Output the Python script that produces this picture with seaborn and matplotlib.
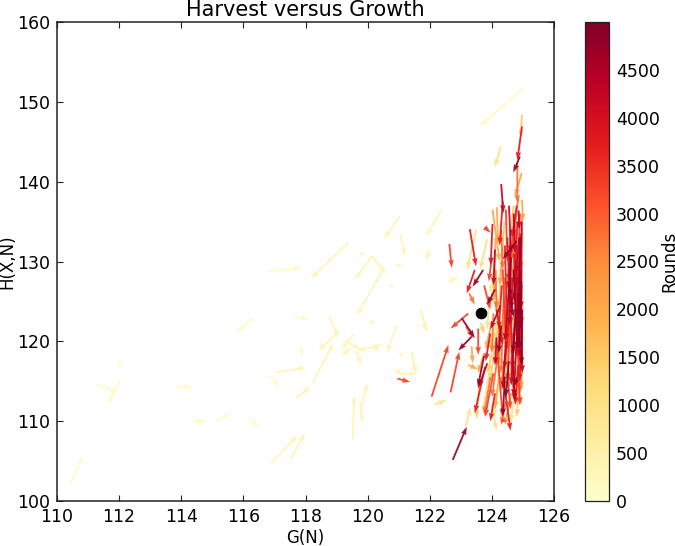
import numpy as np
import matplotlib
matplotlib.use("Agg")
import matplotlib.pyplot as plt
import seaborn as sns

# each row: G start, H start, G end, H end
rounds_band = [150, 350, 1000, 1500, 2100, 2800, 3300, 3800, 4300, 4800]

arrows_150 = [
 (110.44,102.3,110.83,105.6),(111.28,114.6,111.97,113.6),(112.03,115.2,111.65,112.2),
 (111.97,117.0,112.16,117.3),(113.83,114.4,114.34,114.2),(114.37,110.0,114.8,110.0),
 (115.12,110.0,115.6,111.0),(116.27,122.89,115.78,121.03),(116.19,110.36,116.51,109.19),
 (116.84,115.79,117.16,114.2),(117.66,123.18,118.11,122.68),(117.85,119.13,117.91,118.1),
 (125.01,151.7,123.62,147.0),(116.8,128.74,117.88,129.24),
]
arrows_350 = [
 (116.89,104.72,117.75,108.27),(117.52,105.22,117.98,108.48),(117.04,116.08,118.02,116.71),
 (117.69,112.87,118.15,114.33),(118.23,114.83,118.9,119.76),(118.77,123.1,119.06,120.5),
 (119.06,121.22,118.41,118.8),(119.38,132.37,118.18,127.9),(119.54,120.8,119.13,118.92),
 (119.24,120.18,119.78,118.92),(119.43,119.13,119.17,118.2),(120.42,119.55,119.65,118.8),
 (120.18,119.55,120.4,118.7),(120.94,121.93,120.61,118.6),(119.63,118.7,119.81,117.04),
 (119.52,107.73,119.57,113.28),(119.76,111.2,119.99,114.83),(119.76,112.24,119.83,109.82),
 (120.13,122.6,120.18,121.85),(121.56,122.06,121.69,122.06),(121.71,123.94,121.92,121.1),
 (121.06,118.6,121.13,117.88),(121.42,118.6,121.55,116.0),(120.88,116.42,121.15,115.79),
 (121.04,115.92,121.58,115.92),(119.76,131.04,119.92,130.7),(120.13,130.7,119.59,127.7),
 (120.13,130.7,120.59,128.45),(120.49,128.95,119.65,123.23),(120.91,129.53,121.13,129.53),
 (120.74,127.07,120.83,126.65),(121.06,135.84,120.53,132.79),(121.06,133.33,121.2,130.62),
 (122.38,136.5,121.88,133.2),(121.98,131.5,121.9,130.0),(121.7,123.9,121.9,121.2),
 (122.6,127.5,122.92,128.0),(121.42,118.7,121.56,115.8),
]
arrows_1000 = [
 (124.28,144.4,124.10,141.8),(122.17,112.05,122.54,112.66),(123.16,109.4,123.31,111.75),
 (123.5,134.0,123.2,129.0),(123.85,132.8,123.62,129.0),(124.6,126.0,124.5,121.0),
 (124.0,112.0,124.15,108.8),(124.95,130.0,124.9,126.0),(124.3,119.0,124.2,115.5),
 (124.7,112.5,124.6,109.8),(123.9,124.5,123.85,121.5),(124.4,122.5,124.5,118.5),
 (124.85,122.0,124.75,118.0),(124.2,114.0,124.05,110.5),(124.55,131.0,124.65,127.0),
 (124.25,125.0,124.0,119.0),(123.95,117.0,123.7,111.0),(124.98,126.0,124.92,114.0),
 (124.5,116.0,124.3,110.0),(124.75,136.0,124.55,128.0),(124.15,131.0,123.95,126.0),
]
arrows_1500 = [
 (124.1,121.0,123.82,119.0),(123.65,122.3,123.75,120.9),(123.55,128.0,123.45,127.3),
 (124.97,148.4,124.92,145.45),(124.0,118.5,123.85,116.0),(124.9,116.0,124.8,110.5),
 (124.7,137.0,124.6,133.0),(124.15,127.5,123.95,124.5),(123.6,115.0,123.5,110.3),
 (124.45,117.0,124.25,113.5),(124.85,126.0,124.95,120.5),(124.3,128.5,124.2,123.5),
 (124.65,124.0,124.45,119.0),(124.97,134.0,124.93,129.0),(124.6,122.0,124.35,114.0),
 (124.05,129.0,124.25,122.0),(124.92,124.0,124.85,113.0),(124.4,135.0,124.3,128.0),
 (124.2,122.5,123.95,115.0),
]
arrows_2100 = [
 (124.16,136.8,124.2,132.3),(124.02,136.5,124.25,130.0),(124.96,141.1,124.74,138.1),
 (124.97,137.7,125.0,135.0),(123.35,119.4,123.38,117.25),(123.24,117.05,123.56,116.5),
 (124.8,132.0,124.7,128.0),(124.62,113.5,124.42,109.5),(124.1,125.0,124.3,120.0),
 (124.95,122.0,124.95,114.0),(124.35,131.5,124.25,127.0),(124.75,120.0,124.55,115.0),
 (124.0,122.5,123.8,119.0),(124.9,128.0,124.8,122.0),(123.75,118.5,123.55,116.0),
 (124.25,116.5,124.1,111.5),(124.55,127.5,124.65,122.0),(124.98,136.0,124.9,126.0),
 (124.45,126.0,124.2,117.0),(124.7,118.0,124.95,112.0),(124.35,124.0,124.55,114.0),
 (124.12,133.0,124.05,125.0),
]
arrows_2800 = [
 (124.82,142.3,124.82,137.3),(123.16,121.85,123.4,120.4),(123.27,126.0,123.45,124.6),
 (124.05,123.5,124.0,118.5),(124.5,120.0,124.3,114.5),(124.88,133.0,124.75,128.0),
 (124.62,118.0,124.72,112.5),(124.3,134.0,124.35,129.0),(124.78,125.5,124.68,120.0),
 (124.45,112.5,124.3,109.5),(124.2,118.5,124.0,113.0),(124.92,119.0,124.9,113.5),
 (124.6,129.5,124.5,124.5),(124.12,129.0,124.15,124.0),(123.95,115.5,123.75,110.8),
 (124.75,134.0,124.6,122.0),(124.4,128.0,124.3,116.0),(124.95,131.0,124.85,119.0),
 (124.55,124.0,124.7,114.0),(124.85,138.0,124.65,131.0),
]
arrows_3300 = [
 (122.06,113.08,122.60,119.55),(122.67,113.6,122.95,118.7),(123.24,123.5,122.67,121.6),
 (122.63,132.2,122.71,129.2),(120.96,115.33,121.37,114.9),(123.76,134.3,123.96,133.6),
 (123.56,121.6,123.56,118.3),(124.3,110.1,124.5,110.0),(124.0,130.5,123.9,127.5),
 (124.4,125.0,124.5,119.0),(124.72,135.0,124.62,130.0),(124.25,122.0,124.15,117.0),
 (124.88,124.5,124.78,118.0),(124.5,116.0,124.6,111.5),(124.05,116.0,123.78,110.5),
 (124.6,132.0,124.5,126.5),(123.75,127.0,123.95,124.0),(124.95,130.0,124.95,122.0),
 (124.65,128.0,124.5,115.0),(124.8,122.0,124.9,112.0),(124.35,129.0,124.45,120.0),
 (124.9,136.0,124.8,124.0),(124.15,120.0,124.35,110.5),(124.45,136.5,124.5,130.0),
]
arrows_3800 = [
 (124.97,146.9,124.82,142.7),(123.29,134.05,123.49,129.4),(124.02,134.7,123.96,129.5),
 (123.78,116.8,123.45,111.0),(123.45,128.95,123.19,126.0),(124.8,137.0,124.65,133.0),
 (124.15,124.0,124.35,119.5),(124.55,122.5,124.4,116.5),(124.85,117.0,124.75,112.0),
 (124.68,128.0,124.58,122.0),(124.32,127.0,124.22,121.5),(124.9,126.0,124.88,119.0),
 (124.1,113.5,123.95,110.0),(124.5,133.0,124.55,127.5),(124.75,123.0,124.65,116.5),
 (124.4,114.5,124.6,108.8),(123.95,121.0,123.8,117.5),(124.92,133.5,124.85,127.0),
 (124.72,131.0,124.85,118.0),(124.95,127.0,124.9,115.0),(124.58,126.0,124.72,113.0),
 (124.42,132.0,124.5,120.0),(124.82,135.0,124.72,125.0),(124.35,137.5,124.25,132.0),
]
arrows_4300 = [
 (124.30,139.7,124.37,136.05),(124.7,136.0,124.75,131.0),(124.86,136.4,124.88,134.0),
 (124.92,129.0,124.9,122.0),(123.85,117.25,123.56,114.1),(124.82,128.0,124.6,124.0),
 (124.55,126.5,124.42,120.0),(124.72,121.0,124.62,114.5),(124.28,124.5,123.95,121.5),
 (124.95,122.5,124.98,116.0),(124.45,120.0,124.35,114.0),(124.65,119.0,124.75,112.5),
 (124.15,120.5,124.1,117.0),(124.88,133.0,124.78,128.5),(124.1,131.5,124.05,127.0),
 (124.78,130.0,124.9,118.0),(124.6,134.0,124.55,122.0),(124.96,135.0,124.94,124.0),
 (124.85,124.0,124.7,113.0),(124.55,137.0,124.62,131.0),
]
arrows_4800 = [
 (124.90,143.15,124.69,141.15),(123.03,122.9,123.45,120.4),(123.35,120.6,122.92,118.85),
 (122.74,105.15,123.19,109.3),(123.72,128.95,123.38,126.85),(124.42,115.6,124.35,110.6),
 (124.8,132.6,124.35,130.3),(124.52,127.5,124.7,123.0),(124.85,126.0,124.88,119.0),
 (124.62,130.5,124.58,125.5),(124.78,124.0,124.68,118.5),(124.95,127.5,124.92,121.5),
 (124.1,126.5,123.85,124.6),(124.3,122.0,124.22,118.5),(124.55,117.5,124.45,113.0),
 (123.75,118.2,123.55,114.3),(124.8,115.5,124.72,114.3),(124.92,133.0,124.85,123.0),
 (124.7,129.0,124.82,119.0),(124.98,124.0,124.95,117.0),
]
bands = [arrows_150, arrows_350, arrows_1000, arrows_1500, arrows_2100,
         arrows_2800, arrows_3300, arrows_3800, arrows_4300, arrows_4800]

final_g = [123.65]
final_h = [123.6]
x_ticks = [110, 112, 114, 116, 118, 120, 122, 124, 126]
y_ticks = [100, 110, 120, 130, 140, 150, 160]
cbar_ticks = [0, 500, 1000, 1500, 2000, 2500, 3000, 3500, 4000, 4500]

sns.set_style("ticks")
plt.rcParams["font.family"] = ["DejaVu Sans"]
plt.rcParams["axes.edgecolor"] = "#222222"
plt.rcParams["xtick.color"] = "#222222"
plt.rcParams["ytick.color"] = "#222222"
plt.rcParams["text.color"] = "black"
plt.rcParams["axes.labelcolor"] = "black"

fig = plt.figure(figsize=(6.75, 5.46), dpi=100)
W, H = 675, 546
ax = fig.add_axes([57/W, 1-501/H, (554-57)/W, (501-22)/H])
cax = fig.add_axes([585/W, 1-501/H, (609-585)/W, (501-22)/H])

seg = np.array([a for b in bands for a in b], dtype=float)
rnd = np.array([r for r, b in zip(rounds_band, bands) for _ in b], dtype=float)
cmap = sns.color_palette("YlOrRd", as_cmap=True)
q = ax.quiver(seg[:, 0], seg[:, 1], seg[:, 2]-seg[:, 0], seg[:, 3]-seg[:, 1], rnd,
              cmap=cmap, clim=(0, 4999), angles="xy", scale_units="xy", scale=1,
              width=0.0037, headwidth=3, headlength=4.5, headaxislength=4,
              minlength=0, alpha=0.92, zorder=2)
sns.scatterplot(x=final_g, y=final_h, color="black", s=60, edgecolor="black",
                ax=ax, zorder=3, legend=False)

ax.set_xlim(110, 126)
ax.set_ylim(100, 160)
ax.set_xticks(x_ticks)
ax.set_yticks(y_ticks)
ax.tick_params(direction="in", top=True, right=True, length=4, width=0.8,
               labelsize=12.5, labelcolor="black", pad=5)
for s in ax.spines.values():
    s.set_linewidth(1.1)
ax.set_xlabel("G(N)", fontsize=12, labelpad=2)
ax.set_ylabel("H(X,N)", fontsize=12)
ax.yaxis.set_label_coords(-41/497, 0.5)
ax.set_title("Harvest versus Growth", fontsize=15, pad=4)

sm = matplotlib.cm.ScalarMappable(norm=matplotlib.colors.Normalize(0, 4999), cmap=cmap)
cb = fig.colorbar(sm, cax=cax)
cb.set_ticks(cbar_ticks)
cb.ax.tick_params(direction="in", length=4, width=0.8, labelsize=12.5, labelcolor="black", pad=5)
cb.outline.set_linewidth(0.9)
cb.set_label("Rounds", fontsize=12)
cb.ax.yaxis.set_label_coords(1+(660-609)/24, 0.5)
fig.savefig("out.png", dpi=100)
